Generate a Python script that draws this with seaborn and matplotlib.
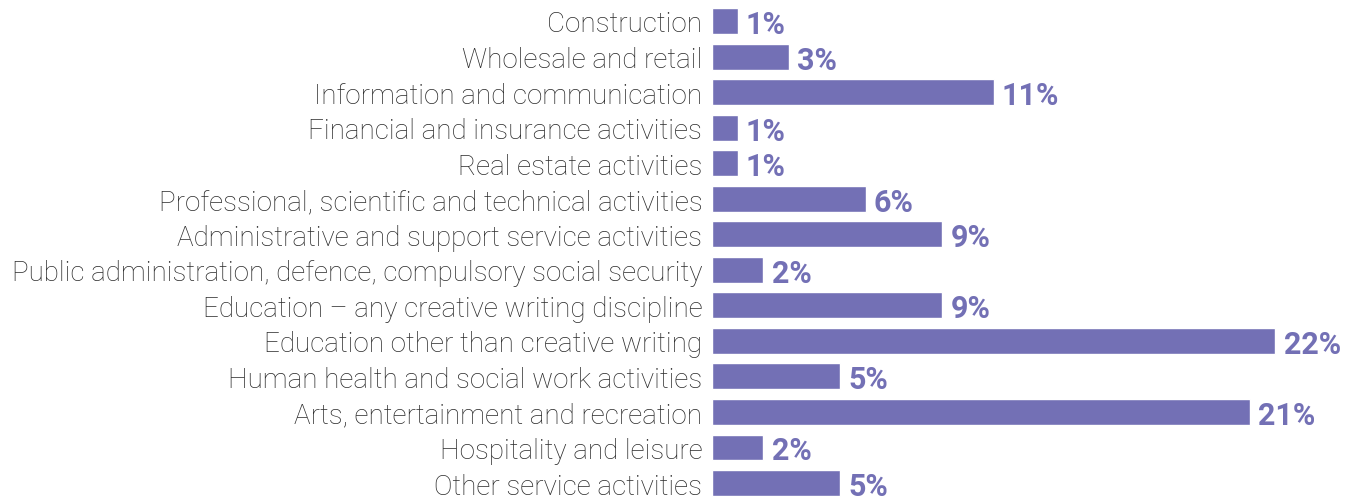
import matplotlib.pyplot as plt
import pandas as pd
import seaborn as sns

categories = [
    "Construction",
    "Wholesale and retail",
    "Information and communication",
    "Financial and insurance activities",
    "Real estate activities",
    "Professional, scientific and technical activities",
    "Administrative and support service activities",
    "Public administration, defence, compulsory social security",
    "Education \u2013 any creative writing discipline",
    "Education other than creative writing",
    "Human health and social work activities",
    "Arts, entertainment and recreation",
    "Hospitality and leisure",
    "Other service activities",
]
shares = [1, 3, 11, 1, 1, 6, 9, 2, 9, 22, 5, 21, 2, 5]

BAR_COLOR = "#7370b5"

df = pd.DataFrame({"sector": categories, "share": shares})

sns.set_theme(style="white")
plt.rcParams["font.family"] = ["Roboto", "DejaVu Sans"]

fig = plt.figure(figsize=(13.59, 5.02), dpi=100)
ax = fig.add_axes([712 / 1359, 0, 1 - 712 / 1359, 1])

sns.barplot(data=df, x="share", y="sector", color=BAR_COLOR, saturation=1,
            width=0.73, ax=ax)

for i, v in enumerate(shares):
    ax.annotate(f"{v}%", xy=(v, i), xytext=(6, 0), textcoords="offset points",
                ha="left", va="center_baseline", color=BAR_COLOR, fontsize=22,
                fontweight="bold")

ax.set_xlim(0, 647 / 25.6)
ax.set_ylim(13.506, -0.619)
ax.set_xlabel("")
ax.set_ylabel("")
ax.set_xticks([])
ax.tick_params(axis="y", length=0, pad=7, labelsize=20, labelcolor="#2b2b2b")
for lbl in ax.get_yticklabels():
    lbl.set_fontweight("light")
sns.despine(ax=ax, left=True, bottom=True)

fig.savefig("out.png", dpi=100)
